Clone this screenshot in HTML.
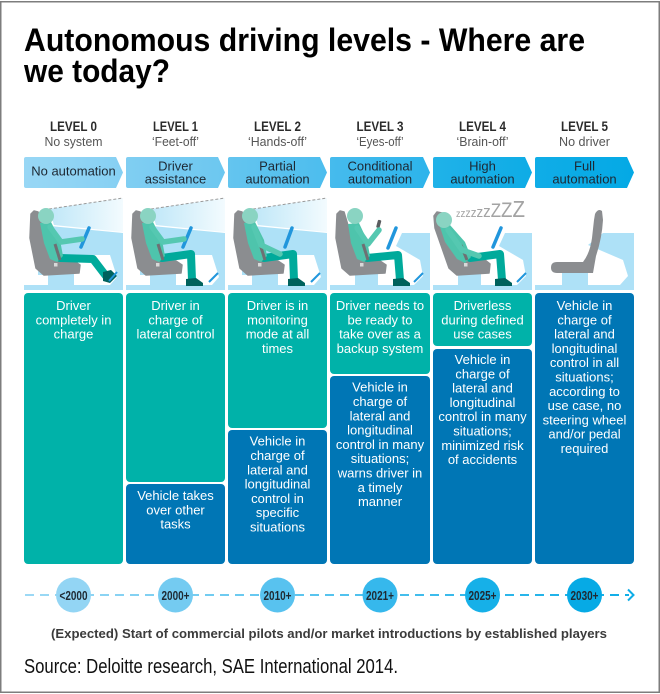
<!DOCTYPE html>
<html>
<head>
<meta charset="utf-8">
<style>
html,body{margin:0;padding:0;background:#fff;}
svg{display:block;}
text{font-family:"Liberation Sans",Arial,sans-serif;}
.hd{font-size:13.5px;font-weight:bold;fill:#2b2b2b;text-anchor:middle;}
.sb{font-size:13px;fill:#555;text-anchor:middle;}
.ch{font-size:13px;fill:#1d2833;text-anchor:middle;}
.bx{font-size:13px;fill:#fff;text-anchor:middle;}
.yr{font-size:12.5px;font-weight:bold;fill:#1f2a33;text-anchor:middle;}
</style>
</head>
<body>
<svg width="660" height="694" viewBox="0 0 660 694" xmlns="http://www.w3.org/2000/svg">
<defs>
  <linearGradient id="cone" x1="0" y1="0" x2="1" y2="0">
    <stop offset="0" stop-color="#bfe7f8"/>
    <stop offset="1" stop-color="#f3fbfe"/>
  </linearGradient>
  <linearGradient id="g0" x1="0" y1="0" x2="1" y2="0"><stop offset="0" stop-color="#98d7f5"/><stop offset="1" stop-color="#86d0f3"/></linearGradient>
  <linearGradient id="g1" x1="0" y1="0" x2="1" y2="0"><stop offset="0" stop-color="#80cef2"/><stop offset="1" stop-color="#6cc7f0"/></linearGradient>
  <linearGradient id="g2" x1="0" y1="0" x2="1" y2="0"><stop offset="0" stop-color="#64c5ef"/><stop offset="1" stop-color="#4cbdee"/></linearGradient>
  <linearGradient id="g3" x1="0" y1="0" x2="1" y2="0"><stop offset="0" stop-color="#46bbed"/><stop offset="1" stop-color="#2cb4eb"/></linearGradient>
  <linearGradient id="g4" x1="0" y1="0" x2="1" y2="0"><stop offset="0" stop-color="#20b2e8"/><stop offset="1" stop-color="#0eace6"/></linearGradient>
  <linearGradient id="g5" x1="0" y1="0" x2="1" y2="0"><stop offset="0" stop-color="#10ade7"/><stop offset="1" stop-color="#04a9e5"/></linearGradient>
  <linearGradient id="tl" gradientUnits="userSpaceOnUse" x1="25" y1="0" x2="634" y2="0">
    <stop offset="0" stop-color="#9dd9f5"/><stop offset="1" stop-color="#0eade7"/>
  </linearGradient>
</defs>

<rect width="660" height="694" fill="#fff"/>
<rect x="0.75" y="1.75" width="658.5" height="690.5" fill="none" stroke="#7d7d7d" stroke-width="1.5"/>

<!-- Title -->
<text x="24" y="51" font-size="32" font-weight="bold" fill="#000" textLength="561" lengthAdjust="spacingAndGlyphs">Autonomous driving levels - Where are</text>
<text x="24" y="82" font-size="32" font-weight="bold" fill="#000" textLength="146" lengthAdjust="spacingAndGlyphs">we today?</text>

<!-- Level headers -->
<text class="hd" x="73.5" y="131" textLength="47" lengthAdjust="spacingAndGlyphs">LEVEL 0</text>
<text class="hd" x="175.5" y="131" textLength="45" lengthAdjust="spacingAndGlyphs">LEVEL 1</text>
<text class="hd" x="277.5" y="131" textLength="47" lengthAdjust="spacingAndGlyphs">LEVEL 2</text>
<text class="hd" x="380" y="131" textLength="47" lengthAdjust="spacingAndGlyphs">LEVEL 3</text>
<text class="hd" x="482.5" y="131" textLength="47" lengthAdjust="spacingAndGlyphs">LEVEL 4</text>
<text class="hd" x="584.5" y="131" textLength="47" lengthAdjust="spacingAndGlyphs">LEVEL 5</text>

<text class="sb" x="73.5" y="146" textLength="58" lengthAdjust="spacingAndGlyphs">No system</text>
<text class="sb" x="175.5" y="146" textLength="47" lengthAdjust="spacingAndGlyphs">‘Feet-off’</text>
<text class="sb" x="277.5" y="146" textLength="59" lengthAdjust="spacingAndGlyphs">‘Hands-off’</text>
<text class="sb" x="380" y="146" textLength="47" lengthAdjust="spacingAndGlyphs">‘Eyes-off’</text>
<text class="sb" x="482.5" y="146" textLength="52" lengthAdjust="spacingAndGlyphs">‘Brain-off’</text>
<text class="sb" x="584.5" y="146" textLength="51" lengthAdjust="spacingAndGlyphs">No driver</text>

<!-- Chevrons -->
<path d="M26,157H116L123,172.5L116,188H26Q24,188 24,186V159Q24,157 26,157Z" fill="url(#g0)"/>
<path d="M128,157H218L225,172.5L218,188H128Q126,188 126,186V159Q126,157 128,157Z" fill="url(#g1)"/>
<path d="M230,157H320L327,172.5L320,188H230Q228,188 228,186V159Q228,157 230,157Z" fill="url(#g2)"/>
<path d="M332,157H423L430,172.5L423,188H332Q330,188 330,186V159Q330,157 332,157Z" fill="url(#g3)"/>
<path d="M435,157H525L532,172.5L525,188H435Q433,188 433,186V159Q433,157 435,157Z" fill="url(#g4)"/>
<path d="M537,157H627L634,172.5L627,188H537Q535,188 535,186V159Q535,157 537,157Z" fill="url(#g5)"/>

<text class="ch" x="73.5" y="175.5">No automation</text>
<text class="ch" x="175.5" y="170.5">Driver</text>
<text class="ch" x="175.5" y="183.5">assistance</text>
<text class="ch" x="277.5" y="170.5">Partial</text>
<text class="ch" x="277.5" y="183.5">automation</text>
<text class="ch" x="380" y="170.5">Conditional</text>
<text class="ch" x="380" y="183.5">automation</text>
<text class="ch" x="482.5" y="170.5">High</text>
<text class="ch" x="482.5" y="183.5">automation</text>
<text class="ch" x="584.5" y="170.5">Full</text>
<text class="ch" x="584.5" y="183.5">automation</text>

<!-- Illustration L0 -->
<g transform="translate(24,198)">
  <polygon points="26,28 99,35 99,92 0,92 0,87 14,87 14,40" fill="#aee1f7"/>
  <polygon points="50,57 86,57 93,79 86,87 50,87" fill="#fff"/>
  <rect x="0" y="77" width="24" height="10" fill="#fff"/>
  <rect x="24" y="74" width="23" height="13" fill="#aee1f7"/>
  <polygon points="25,11 99,0 99,34 30,27" fill="url(#cone)"/>
  <line x1="25" y1="11" x2="99" y2="0" stroke="#9a9a9a" stroke-width="1" stroke-dasharray="3,2"/>
  <polygon points="7,16 10,13 14,14 17,24 23,47 30,62 50,63 56,67 55,75 20,77 12,70 6,40" fill="#8b8d90" stroke="#8b8d90" stroke-width="1.5" stroke-linejoin="round"/>
  <rect x="30" y="65" width="3.5" height="3.5" fill="#d9d9d9"/>
  <path d="M36,60 L69,61 L82,78" stroke="#00aa9b" stroke-width="8" stroke-linecap="round" stroke-linejoin="round" fill="none"/>
  <polygon points="79,74 87,72 93,78 86,85 79,83" fill="#00625d"/>
  <line x1="85" y1="83" x2="93" y2="74" stroke="#2196dc" stroke-width="2"/>
  <polygon points="16,25 27,24 36,42 39,58 33,64 26,61 20,45" fill="#4ec4ac"/>
  <line x1="31" y1="46" x2="36" y2="62" stroke="#6e7073" stroke-width="3"/>
  <line x1="65" y1="30" x2="57" y2="49" stroke="#2196dc" stroke-width="3.5" stroke-linecap="round"/>
  <path d="M26,29 L37,44 L58,41" stroke="#55c8b1" stroke-width="5.5" stroke-linecap="round" stroke-linejoin="round" fill="none"/>
  <circle cx="22" cy="18" r="8" fill="#8ad4c2"/>
</g>

<!-- Illustration L1 -->
<g transform="translate(126,198)">
  <polygon points="26,28 99,35 99,92 0,92 0,87 14,87 14,40" fill="#aee1f7"/>
  <polygon points="50,57 86,57 93,79 86,87 50,87" fill="#fff"/>
  <rect x="0" y="77" width="24" height="10" fill="#fff"/>
  <rect x="24" y="74" width="23" height="13" fill="#aee1f7"/>
  <polygon points="25,11 99,0 99,34 30,27" fill="url(#cone)"/>
  <line x1="25" y1="11" x2="99" y2="0" stroke="#9a9a9a" stroke-width="1" stroke-dasharray="3,2"/>
  <polygon points="7,16 10,13 14,14 17,24 23,47 30,62 50,63 56,67 55,75 20,77 12,70 6,40" fill="#8b8d90" stroke="#8b8d90" stroke-width="1.5" stroke-linejoin="round"/>
  <rect x="30" y="65" width="3.5" height="3.5" fill="#d9d9d9"/>
  <path d="M36,60 L65,56 L66,82" stroke="#00aa9b" stroke-width="8" stroke-linecap="round" stroke-linejoin="round" fill="none"/>
  <polygon points="60,81 70,80 77,85 77,88 60,88" fill="#00625d"/>
  <line x1="83" y1="84" x2="92" y2="75" stroke="#2196dc" stroke-width="2"/>
  <polygon points="16,25 27,24 36,42 39,58 33,64 26,61 20,45" fill="#4ec4ac"/>
  <line x1="32" y1="46" x2="37" y2="62" stroke="#6e7073" stroke-width="3"/>
  <line x1="65" y1="30" x2="57" y2="49" stroke="#2196dc" stroke-width="3.5" stroke-linecap="round"/>
  <path d="M26,29 L37,44 L58,41" stroke="#55c8b1" stroke-width="5.5" stroke-linecap="round" stroke-linejoin="round" fill="none"/>
  <circle cx="22" cy="18" r="8" fill="#8ad4c2"/>
</g>

<!-- Illustration L2 -->
<g transform="translate(228,198)">
  <polygon points="26,28 99,35 99,92 0,92 0,87 14,87 14,40" fill="#aee1f7"/>
  <polygon points="50,57 86,57 93,79 86,87 50,87" fill="#fff"/>
  <rect x="0" y="77" width="24" height="10" fill="#fff"/>
  <rect x="24" y="74" width="23" height="13" fill="#aee1f7"/>
  <polygon points="25,11 99,0 99,34 30,27" fill="url(#cone)"/>
  <line x1="25" y1="11" x2="99" y2="0" stroke="#9a9a9a" stroke-width="1" stroke-dasharray="3,2"/>
  <polygon points="7,16 10,13 14,14 17,24 23,47 30,62 50,63 56,67 55,75 20,77 12,70 6,40" fill="#8b8d90" stroke="#8b8d90" stroke-width="1.5" stroke-linejoin="round"/>
  <rect x="30" y="65" width="3.5" height="3.5" fill="#d9d9d9"/>
  <path d="M36,60 L65,56 L66,82" stroke="#00aa9b" stroke-width="8" stroke-linecap="round" stroke-linejoin="round" fill="none"/>
  <polygon points="60,81 70,80 77,85 77,88 60,88" fill="#00625d"/>
  <line x1="83" y1="84" x2="92" y2="75" stroke="#2196dc" stroke-width="2"/>
  <line x1="64" y1="30" x2="57" y2="49" stroke="#2196dc" stroke-width="3.5" stroke-linecap="round"/>
  <polygon points="16,25 27,24 36,42 39,58 33,64 26,61 20,45" fill="#4ec4ac"/>
  <line x1="32" y1="46" x2="37" y2="62" stroke="#6e7073" stroke-width="3"/>
  <path d="M26,29 L33,47 L52,56" stroke="#55c8b1" stroke-width="5.5" stroke-linecap="round" stroke-linejoin="round" fill="none"/>
  <circle cx="22" cy="18" r="8" fill="#8ad4c2"/>
</g>

<!-- Illustration L3 -->
<g transform="translate(330,198)">
  <polygon points="72,35 100,35 100,92 0,92 0,87 84,87 93,78 90,62 66,48" fill="#aee1f7"/>
  <rect x="25" y="74" width="23" height="13" fill="#aee1f7"/>
  <polygon points="7,16 10,13 14,14 17,24 23,47 30,62 50,63 56,67 55,75 20,77 12,70 6,40" fill="#8b8d90" stroke="#8b8d90" stroke-width="1.5" stroke-linejoin="round"/>
  <rect x="30" y="65" width="3.5" height="3.5" fill="#d9d9d9"/>
  <path d="M37,60 L68,57 L70,82" stroke="#00aa9b" stroke-width="8" stroke-linecap="round" stroke-linejoin="round" fill="none"/>
  <polygon points="63,81 73,80 80,85 80,88 63,88" fill="#00625d"/>
  <line x1="84" y1="84" x2="93" y2="75" stroke="#2196dc" stroke-width="2"/>
  <line x1="66" y1="30" x2="58" y2="50" stroke="#2196dc" stroke-width="3.5" stroke-linecap="round"/>
  <polygon points="18,26 29,25 37,42 40,58 34,64 27,61 21,45" fill="#4ec4ac"/>
  <line x1="33" y1="46" x2="38" y2="62" stroke="#6e7073" stroke-width="3"/>
  <rect x="47" y="22" width="3.5" height="8" rx="1" fill="#5a5c5f" transform="rotate(15 49 26)"/>
  <path d="M27,30 L38,46 L49,32" stroke="#55c8b1" stroke-width="5.5" stroke-linecap="round" stroke-linejoin="round" fill="none"/>
  <circle cx="25" cy="18" r="8" fill="#8ad4c2"/>
</g>

<!-- Illustration L4 -->
<g transform="translate(433,198)">
  <polygon points="72,35 99,35 99,92 0,92 0,87 84,87 93,78 90,62 66,48" fill="#aee1f7"/>
  <rect x="25" y="74" width="23" height="13" fill="#aee1f7"/>
  <polygon points="1,18 4,14 9,15 15,30 27,60 52,62 57,66 56,75 24,77 16,70 2,30" fill="#8b8d90" stroke="#8b8d90" stroke-width="1.5" stroke-linejoin="round"/>
  <rect x="31" y="65" width="3.5" height="3.5" fill="#d9d9d9"/>
  <path d="M37,60 L67,56 L69,82" stroke="#00aa9b" stroke-width="8" stroke-linecap="round" stroke-linejoin="round" fill="none"/>
  <polygon points="62,81 72,80 79,85 79,88 62,88" fill="#00625d"/>
  <line x1="84" y1="84" x2="93" y2="75" stroke="#2196dc" stroke-width="2"/>
  <line x1="68" y1="30" x2="60" y2="49" stroke="#2196dc" stroke-width="3.5" stroke-linecap="round"/>
  <polygon points="7,29 17,27 32,44 38,59 32,65 24,61 12,44" fill="#4ec4ac"/>
  <line x1="28" y1="47" x2="34" y2="62" stroke="#6e7073" stroke-width="3"/>
  <path d="M15,32 L29,52 L46,58" stroke="#55c8b1" stroke-width="5.5" stroke-linecap="round" stroke-linejoin="round" fill="none"/>
  <circle cx="11" cy="22" r="8" fill="#8ad4c2"/>
  <text x="23" y="19" fill="#a3a3a3" textLength="69" lengthAdjust="spacingAndGlyphs"><tspan font-size="10">z</tspan><tspan font-size="11">z</tspan><tspan font-size="12">z</tspan><tspan font-size="13">z</tspan><tspan font-size="15">z</tspan><tspan font-size="17">z</tspan><tspan font-size="19">Z</tspan><tspan font-size="21">Z</tspan><tspan font-size="23">Z</tspan></text>
</g>

<!-- Illustration L5 -->
<g transform="translate(535,198)">
  <polygon points="68,35 99,35 99,92 0,92 0,87 85,87 93,78 88,62 53,47" fill="#aee1f7"/>
  <rect x="27" y="73" width="26" height="14" fill="#aee1f7"/>
  <path d="M60,16 Q63,10 67,13 L68,22 Q67,40 61,58 L58,75 L22,75 Q16,75 16,69.5 Q16,64 22,64 L48,64 Q55,55 57,40 L59,22 Z" fill="#8b8d90"/>
</g>

<!-- Boxes -->
<rect x="24" y="293" width="99" height="271" rx="4" fill="#00b2a9"/>
<rect x="126" y="293" width="99" height="189" rx="4" fill="#00b2a9"/>
<rect x="126" y="484" width="99" height="80" rx="4" fill="#0076b5"/>
<rect x="228" y="293" width="99" height="135" rx="4" fill="#00b2a9"/>
<rect x="228" y="430" width="99" height="134" rx="4" fill="#0076b5"/>
<rect x="330" y="293" width="100" height="81" rx="4" fill="#00b2a9"/>
<rect x="330" y="376" width="100" height="188" rx="4" fill="#0076b5"/>
<rect x="433" y="293" width="99" height="53" rx="4" fill="#00b2a9"/>
<rect x="433" y="349" width="99" height="215" rx="4" fill="#0076b5"/>
<rect x="535" y="293" width="99" height="271" rx="4" fill="#0076b5"/>

<!-- Col 0 -->
<text class="bx" x="73.5" y="310">Driver</text>
<text class="bx" x="73.5" y="324.3">completely in</text>
<text class="bx" x="73.5" y="338.6">charge</text>
<!-- Col 1 -->
<text class="bx" x="175.5" y="310">Driver in</text>
<text class="bx" x="175.5" y="324.3">charge of</text>
<text class="bx" x="175.5" y="338.6">lateral control</text>
<text class="bx" x="175.5" y="500">Vehicle takes</text>
<text class="bx" x="175.5" y="514.3">over other</text>
<text class="bx" x="175.5" y="528.6">tasks</text>
<!-- Col 2 -->
<text class="bx" x="277.5" y="310">Driver is in</text>
<text class="bx" x="277.5" y="324.3">monitoring</text>
<text class="bx" x="277.5" y="338.6">mode at all</text>
<text class="bx" x="277.5" y="352.9">times</text>
<text class="bx" x="277.5" y="445.7">Vehicle in</text>
<text class="bx" x="277.5" y="460">charge of</text>
<text class="bx" x="277.5" y="474.3">lateral and</text>
<text class="bx" x="277.5" y="488.6">longitudinal</text>
<text class="bx" x="277.5" y="502.9">control in</text>
<text class="bx" x="277.5" y="517.2">specific</text>
<text class="bx" x="277.5" y="531.5">situations</text>
<!-- Col 3 -->
<text class="bx" x="380" y="310">Driver needs to</text>
<text class="bx" x="380" y="324.3">be ready to</text>
<text class="bx" x="380" y="338.6">take over as a</text>
<text class="bx" x="380" y="352.9">backup system</text>
<text class="bx" x="380" y="391.7">Vehicle in</text>
<text class="bx" x="380" y="406">charge of</text>
<text class="bx" x="380" y="420.3">lateral and</text>
<text class="bx" x="380" y="434.6">longitudinal</text>
<text class="bx" x="380" y="448.9">control in many</text>
<text class="bx" x="380" y="463.2">situations;</text>
<text class="bx" x="380" y="477.5">warns driver in</text>
<text class="bx" x="380" y="491.8">a timely</text>
<text class="bx" x="380" y="506.1">manner</text>
<!-- Col 4 -->
<text class="bx" x="482.5" y="310">Driverless</text>
<text class="bx" x="482.5" y="324.3">during defined</text>
<text class="bx" x="482.5" y="338.6">use cases</text>
<text class="bx" x="482.5" y="364">Vehicle in</text>
<text class="bx" x="482.5" y="378.3">charge of</text>
<text class="bx" x="482.5" y="392.6">lateral and</text>
<text class="bx" x="482.5" y="406.9">longitudinal</text>
<text class="bx" x="482.5" y="421.2">control in many</text>
<text class="bx" x="482.5" y="435.5">situations;</text>
<text class="bx" x="482.5" y="449.8">minimized risk</text>
<text class="bx" x="482.5" y="464.1">of accidents</text>
<!-- Col 5 -->
<text class="bx" x="584.5" y="310">Vehicle in</text>
<text class="bx" x="584.5" y="324.3">charge of</text>
<text class="bx" x="584.5" y="338.6">lateral and</text>
<text class="bx" x="584.5" y="352.9">longitudinal</text>
<text class="bx" x="584.5" y="367.2">control in all</text>
<text class="bx" x="584.5" y="381.5">situations;</text>
<text class="bx" x="584.5" y="395.8">according to</text>
<text class="bx" x="584.5" y="410.1">use case, no</text>
<text class="bx" x="584.5" y="424.4">steering wheel</text>
<text class="bx" x="584.5" y="438.7">and/or pedal</text>
<text class="bx" x="584.5" y="453">required</text>

<!-- Timeline -->
<line x1="25" y1="595" x2="629" y2="595" stroke="url(#tl)" stroke-width="2" stroke-dasharray="9 6"/>
<polyline points="628,589.5 633.5,595 628,600.5" fill="none" stroke="#0eade7" stroke-width="2"/>
<circle cx="73.5" cy="595" r="17.5" fill="#93d5f4"/>
<circle cx="175.5" cy="595" r="17.5" fill="#74cbf1"/>
<circle cx="277.5" cy="595" r="17.5" fill="#58c2ef"/>
<circle cx="380" cy="595" r="17.5" fill="#36b8ec"/>
<circle cx="482.5" cy="595" r="17.5" fill="#16b0e8"/>
<circle cx="584.5" cy="595" r="17.5" fill="#06aae5"/>
<text class="yr" x="73.5" y="600" textLength="28" lengthAdjust="spacingAndGlyphs">&lt;2000</text>
<text class="yr" x="175.5" y="600" textLength="28" lengthAdjust="spacingAndGlyphs">2000+</text>
<text class="yr" x="277.5" y="600" textLength="28" lengthAdjust="spacingAndGlyphs">2010+</text>
<text class="yr" x="380" y="600" textLength="28" lengthAdjust="spacingAndGlyphs">2021+</text>
<text class="yr" x="482.5" y="600" textLength="28" lengthAdjust="spacingAndGlyphs">2025+</text>
<text class="yr" x="584.5" y="600" textLength="28" lengthAdjust="spacingAndGlyphs">2030+</text>

<!-- Caption & source -->
<text x="329" y="638" font-size="13" font-weight="bold" fill="#3b3b3b" text-anchor="middle" textLength="556" lengthAdjust="spacingAndGlyphs">(Expected) Start of commercial pilots and/or market introductions by established players</text>
<text x="24" y="673" font-size="20" fill="#111" textLength="374" lengthAdjust="spacingAndGlyphs">Source: Deloitte research, SAE International 2014.</text>
</svg>
</body>
</html>
